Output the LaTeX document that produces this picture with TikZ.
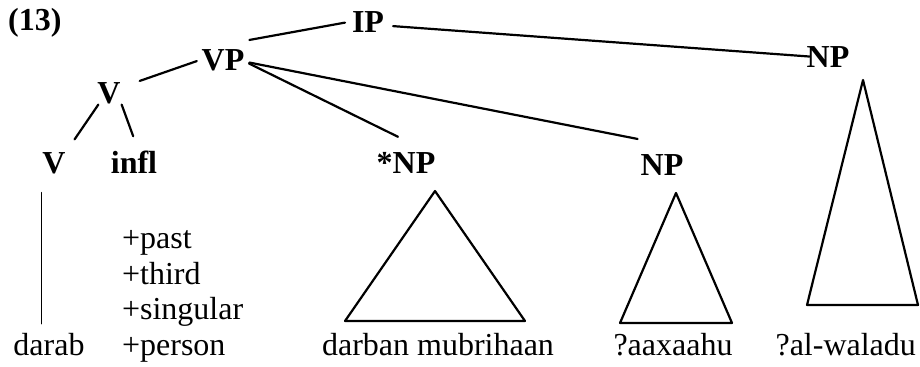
\documentclass[tikz,border=0pt]{standalone}
\usepackage{fontspec}
\setmainfont{Liberation Serif}

\begin{document}
\begin{tikzpicture}[x=0.5pt,y=-0.5pt,line width=1.1pt,line cap=round,
                    br/.style={shorten >=7pt}]
  \tikzstyle{every node}=[inner sep=0pt,font=\fontsize{16}{19}\selectfont]
  \tikzstyle{cat}=[anchor=base,font=\fontsize{16}{19}\selectfont\bfseries]
  \tikzstyle{word}=[anchor=base]
  \tikzstyle{feat}=[anchor=base west]
\useasboundingbox (0,0) rectangle (920,366);
% categories
\node [cat,anchor=base west] (ex) at (7,30) {(13)};
\node [cat] (ip) at (368,32) {IP};
\node [cat] (vp) at (223,70) {VP};
\node [cat] (v1) at (109,103) {V};
\node [cat] (v0) at (54,173) {V};
\node [cat] (infl) at (134,173) {infl};
\node [cat] (np1) at (406,173) {*NP};
\node [cat] (np2) at (662,175) {NP};
\node [cat] (np3) at (828,67) {NP};
% words
\node [word] (darab) at (49,355) {darab};
\node [feat] (f1) at (121,248) {+past};
\node [feat] (f2) at (121,284) {+third};
\node [feat] (f3) at (121,319) {+singular};
\node [feat] (f4) at (121,355) {+person};
\node [word] (w1) at (438,355) {darban mubrihaan};
\node [word] (w2) at (673,355) {?aaxaahu};
\node [word,anchor=base east] (w3) at (917,355) {?al-waladu};
% branches
\draw [shorten <=3pt] (ip.west) -- ([shift={(2pt,4pt)}]vp.north east);
\draw [shorten <=4pt] ([yshift=-2pt]ip.east) -- ([xshift=2pt]np3.west);
\draw [shorten <=2pt] (vp.west) -- ([xshift=9pt]v1.north east);
\draw [shorten <=2pt] ([yshift=-1pt]vp.east) -- ([shift={(-4pt,7pt)}]np1.north);
\draw [shorten <=2pt] ([yshift=-1pt]vp.east) -- ([shift={(-1pt,7pt)}]np2.north west);
\draw [br] ([xshift=1pt]v1.south west) -- (v0.north east);
\draw [br] (v1.south east) -- ([xshift=2pt]infl.north);
\draw [line width=0.7pt,shorten <=9pt,shorten >=4pt] (v0.south west) -- (v0.west |- darab.north);
% triangles
\draw [line join=round] (435,191) -- (345,321) -- (525,321) -- cycle;
\draw [line join=round] (676,193) -- (620,323) -- (732,323) -- cycle;
\draw [line join=round] (863,80) -- (807,305) -- (918,305) -- cycle;
	\end{tikzpicture}
\end{document}
